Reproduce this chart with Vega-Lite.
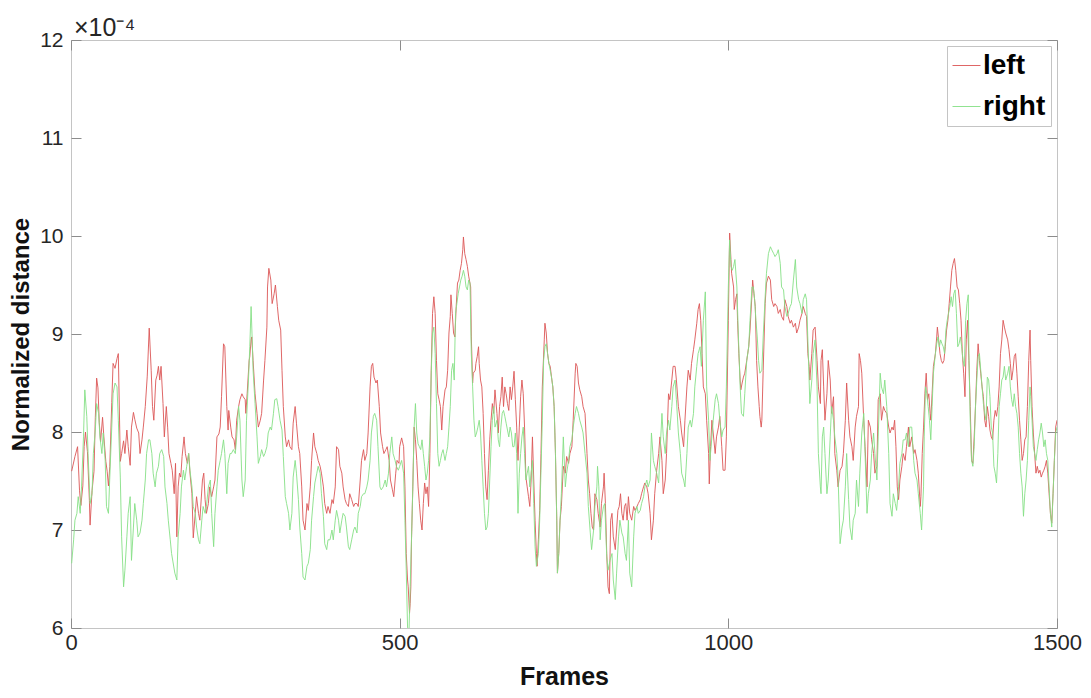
{
  "$schema": "https://vega.github.io/schema/vega-lite/v6.json",
  "width": 986,
  "height": 588,
  "autosize": {"type": "none"},
  "padding": {"left": 71, "top": 40, "right": 34, "bottom": 70},
  "background": "white",
  "config": {
    "view": {"stroke": "#c4c4c4", "strokeWidth": 1},
    "font": "Liberation Sans",
    "axis": {
      "grid": false, "domain": false, "tickColor": "#8c8c8c", "tickSize": -10,
      "labelColor": "#262626", "labelFontSize": 21, "labelFont": "Liberation Sans",
      "titleFont": "Liberation Sans", "titleColor": "#111111", "titleFontSize": 25, "titleFontWeight": "bold",
      "labelFlush": false, "labelOverlap": false
    }
  },
  "title": {"text": "×10⁻⁴", "anchor": "start", "frame": "group", "fontSize": 25, "fontWeight": "normal", "font": "Liberation Sans", "color": "#262626", "offset": -12, "dx": 3},
  "datasets": {
    "curves": [
{"frame":1,"dist":7.60,"side":"left"},{"frame":6,"dist":7.75,"side":"left"},{"frame":10,"dist":7.85,"side":"left"},{"frame":13,"dist":7.40,"side":"left"},{"frame":15,"dist":7.25,"side":"left"},{"frame":18,"dist":7.45,"side":"left"},{"frame":20,"dist":7.85,"side":"left"},{"frame":22,"dist":8.00,"side":"left"},{"frame":25,"dist":7.80,"side":"left"},{"frame":28,"dist":7.30,"side":"left"},{"frame":29,"dist":7.05,"side":"left"},{"frame":32,"dist":7.40,"side":"left"},{"frame":35,"dist":7.60,"side":"left"},{"frame":37,"dist":8.15,"side":"left"},{"frame":39,"dist":8.55,"side":"left"},{"frame":41,"dist":8.45,"side":"left"},{"frame":43,"dist":8.10,"side":"left"},{"frame":45,"dist":7.90,"side":"left"},{"frame":48,"dist":8.15,"side":"left"},{"frame":50,"dist":7.95,"side":"left"},{"frame":53,"dist":7.70,"side":"left"},{"frame":55,"dist":7.60,"side":"left"},{"frame":57,"dist":7.45,"side":"left"},{"frame":59,"dist":7.65,"side":"left"},{"frame":62,"dist":8.30,"side":"left"},{"frame":64,"dist":8.70,"side":"left"},{"frame":67,"dist":8.65,"side":"left"},{"frame":70,"dist":8.75,"side":"left"},{"frame":72,"dist":8.80,"side":"left"},{"frame":75,"dist":7.70,"side":"left"},{"frame":77,"dist":7.78,"side":"left"},{"frame":80,"dist":7.91,"side":"left"},{"frame":82,"dist":7.78,"side":"left"},{"frame":85,"dist":8.02,"side":"left"},{"frame":87,"dist":7.85,"side":"left"},{"frame":90,"dist":7.66,"side":"left"},{"frame":92,"dist":8.05,"side":"left"},{"frame":95,"dist":8.20,"side":"left"},{"frame":97,"dist":8.13,"side":"left"},{"frame":100,"dist":8.04,"side":"left"},{"frame":103,"dist":7.99,"side":"left"},{"frame":105,"dist":7.78,"side":"left"},{"frame":108,"dist":7.92,"side":"left"},{"frame":110,"dist":8.05,"side":"left"},{"frame":113,"dist":8.26,"side":"left"},{"frame":116,"dist":8.57,"side":"left"},{"frame":119,"dist":9.06,"side":"left"},{"frame":122,"dist":8.63,"side":"left"},{"frame":124,"dist":8.26,"side":"left"},{"frame":126,"dist":8.12,"side":"left"},{"frame":129,"dist":8.53,"side":"left"},{"frame":131,"dist":8.58,"side":"left"},{"frame":133,"dist":8.67,"side":"left"},{"frame":135,"dist":8.53,"side":"left"},{"frame":137,"dist":8.67,"side":"left"},{"frame":140,"dist":8.29,"side":"left"},{"frame":142,"dist":7.95,"side":"left"},{"frame":145,"dist":8.26,"side":"left"},{"frame":147,"dist":8.05,"side":"left"},{"frame":149,"dist":7.78,"side":"left"},{"frame":152,"dist":7.68,"side":"left"},{"frame":154,"dist":7.61,"side":"left"},{"frame":157,"dist":7.37,"side":"left"},{"frame":159,"dist":7.68,"side":"left"},{"frame":161,"dist":6.93,"side":"left"},{"frame":163,"dist":7.44,"side":"left"},{"frame":165,"dist":7.58,"side":"left"},{"frame":167,"dist":7.54,"side":"left"},{"frame":169,"dist":7.75,"side":"left"},{"frame":172,"dist":7.95,"side":"left"},{"frame":174,"dist":7.78,"side":"left"},{"frame":177,"dist":7.68,"side":"left"},{"frame":179,"dist":7.78,"side":"left"},{"frame":181,"dist":7.58,"side":"left"},{"frame":184,"dist":7.37,"side":"left"},{"frame":186,"dist":6.92,"side":"left"},{"frame":189,"dist":7.17,"side":"left"},{"frame":191,"dist":7.34,"side":"left"},{"frame":194,"dist":7.17,"side":"left"},{"frame":196,"dist":7.10,"side":"left"},{"frame":200,"dist":7.51,"side":"left"},{"frame":202,"dist":7.58,"side":"left"},{"frame":204,"dist":7.31,"side":"left"},{"frame":206,"dist":7.17,"side":"left"},{"frame":209,"dist":7.27,"side":"left"},{"frame":211,"dist":7.44,"side":"left"},{"frame":214,"dist":7.34,"side":"left"},{"frame":217,"dist":7.44,"side":"left"},{"frame":219,"dist":7.51,"side":"left"},{"frame":222,"dist":7.95,"side":"left"},{"frame":225,"dist":7.98,"side":"left"},{"frame":227,"dist":8.05,"side":"left"},{"frame":229,"dist":8.36,"side":"left"},{"frame":232,"dist":8.90,"side":"left"},{"frame":234,"dist":8.87,"side":"left"},{"frame":237,"dist":8.26,"side":"left"},{"frame":239,"dist":8.02,"side":"left"},{"frame":240,"dist":8.22,"side":"left"},{"frame":243,"dist":8.05,"side":"left"},{"frame":245,"dist":7.95,"side":"left"},{"frame":248,"dist":7.92,"side":"left"},{"frame":250,"dist":7.82,"side":"left"},{"frame":252,"dist":8.12,"side":"left"},{"frame":255,"dist":8.26,"side":"left"},{"frame":257,"dist":8.33,"side":"left"},{"frame":260,"dist":8.39,"side":"left"},{"frame":262,"dist":8.36,"side":"left"},{"frame":265,"dist":8.33,"side":"left"},{"frame":266,"dist":8.19,"side":"left"},{"frame":268,"dist":8.39,"side":"left"},{"frame":271,"dist":8.73,"side":"left"},{"frame":272,"dist":8.77,"side":"left"},{"frame":274,"dist":8.94,"side":"left"},{"frame":275,"dist":8.97,"side":"left"},{"frame":277,"dist":8.73,"side":"left"},{"frame":280,"dist":8.39,"side":"left"},{"frame":283,"dist":8.19,"side":"left"},{"frame":285,"dist":8.05,"side":"left"},{"frame":288,"dist":8.12,"side":"left"},{"frame":290,"dist":8.19,"side":"left"},{"frame":293,"dist":8.53,"side":"left"},{"frame":295,"dist":8.73,"side":"left"},{"frame":298,"dist":9.07,"side":"left"},{"frame":299,"dist":9.48,"side":"left"},{"frame":301,"dist":9.67,"side":"left"},{"frame":304,"dist":9.55,"side":"left"},{"frame":306,"dist":9.31,"side":"left"},{"frame":309,"dist":9.41,"side":"left"},{"frame":311,"dist":9.50,"side":"left"},{"frame":314,"dist":9.28,"side":"left"},{"frame":316,"dist":9.14,"side":"left"},{"frame":319,"dist":9.04,"side":"left"},{"frame":321,"dist":8.63,"side":"left"},{"frame":323,"dist":8.26,"side":"left"},{"frame":326,"dist":7.95,"side":"left"},{"frame":328,"dist":7.85,"side":"left"},{"frame":331,"dist":7.92,"side":"left"},{"frame":333,"dist":7.85,"side":"left"},{"frame":336,"dist":7.82,"side":"left"},{"frame":338,"dist":8.09,"side":"left"},{"frame":341,"dist":8.26,"side":"left"},{"frame":343,"dist":8.09,"side":"left"},{"frame":346,"dist":7.85,"side":"left"},{"frame":348,"dist":7.78,"side":"left"},{"frame":351,"dist":7.44,"side":"left"},{"frame":353,"dist":7.10,"side":"left"},{"frame":356,"dist":7.00,"side":"left"},{"frame":359,"dist":7.27,"side":"left"},{"frame":361,"dist":7.20,"side":"left"},{"frame":364,"dist":7.44,"side":"left"},{"frame":366,"dist":7.71,"side":"left"},{"frame":369,"dist":7.99,"side":"left"},{"frame":371,"dist":7.85,"side":"left"},{"frame":374,"dist":7.78,"side":"left"},{"frame":376,"dist":7.71,"side":"left"},{"frame":379,"dist":7.65,"side":"left"},{"frame":381,"dist":7.58,"side":"left"},{"frame":384,"dist":7.44,"side":"left"},{"frame":386,"dist":7.27,"side":"left"},{"frame":389,"dist":7.17,"side":"left"},{"frame":391,"dist":7.24,"side":"left"},{"frame":394,"dist":7.17,"side":"left"},{"frame":397,"dist":7.31,"side":"left"},{"frame":399,"dist":7.27,"side":"left"},{"frame":402,"dist":7.44,"side":"left"},{"frame":404,"dist":7.85,"side":"left"},{"frame":407,"dist":7.82,"side":"left"},{"frame":409,"dist":7.65,"side":"left"},{"frame":412,"dist":7.58,"side":"left"},{"frame":414,"dist":7.44,"side":"left"},{"frame":417,"dist":7.31,"side":"left"},{"frame":419,"dist":7.27,"side":"left"},{"frame":422,"dist":7.24,"side":"left"},{"frame":424,"dist":7.37,"side":"left"},{"frame":427,"dist":7.31,"side":"left"},{"frame":430,"dist":7.24,"side":"left"},{"frame":432,"dist":7.27,"side":"left"},{"frame":435,"dist":7.27,"side":"left"},{"frame":437,"dist":7.24,"side":"left"},{"frame":440,"dist":7.51,"side":"left"},{"frame":442,"dist":7.71,"side":"left"},{"frame":445,"dist":7.82,"side":"left"},{"frame":447,"dist":7.71,"side":"left"},{"frame":450,"dist":7.78,"side":"left"},{"frame":452,"dist":7.99,"side":"left"},{"frame":455,"dist":8.46,"side":"left"},{"frame":457,"dist":8.67,"side":"left"},{"frame":459,"dist":8.70,"side":"left"},{"frame":461,"dist":8.56,"side":"left"},{"frame":464,"dist":8.50,"side":"left"},{"frame":466,"dist":8.53,"side":"left"},{"frame":469,"dist":8.26,"side":"left"},{"frame":471,"dist":7.99,"side":"left"},{"frame":474,"dist":7.85,"side":"left"},{"frame":476,"dist":7.78,"side":"left"},{"frame":479,"dist":7.82,"side":"left"},{"frame":481,"dist":7.85,"side":"left"},{"frame":484,"dist":7.71,"side":"left"},{"frame":486,"dist":7.51,"side":"left"},{"frame":489,"dist":7.41,"side":"left"},{"frame":491,"dist":7.34,"side":"left"},{"frame":494,"dist":7.58,"side":"left"},{"frame":496,"dist":7.71,"side":"left"},{"frame":499,"dist":7.68,"side":"left"},{"frame":500,"dist":7.85,"side":"left"},{"frame":503,"dist":7.94,"side":"left"},{"frame":506,"dist":7.85,"side":"left"},{"frame":508,"dist":7.44,"side":"left"},{"frame":510,"dist":6.76,"side":"left"},{"frame":512,"dist":6.49,"side":"left"},{"frame":513,"dist":6.42,"side":"left"},{"frame":515,"dist":6.15,"side":"left"},{"frame":516,"dist":6.25,"side":"left"},{"frame":517,"dist":6.42,"side":"left"},{"frame":518,"dist":6.90,"side":"left"},{"frame":520,"dist":7.44,"side":"left"},{"frame":522,"dist":8.05,"side":"left"},{"frame":524,"dist":7.92,"side":"left"},{"frame":526,"dist":7.71,"side":"left"},{"frame":528,"dist":7.44,"side":"left"},{"frame":530,"dist":7.27,"side":"left"},{"frame":532,"dist":7.10,"side":"left"},{"frame":534,"dist":7.00,"side":"left"},{"frame":536,"dist":7.27,"side":"left"},{"frame":538,"dist":7.48,"side":"left"},{"frame":540,"dist":7.37,"side":"left"},{"frame":542,"dist":7.44,"side":"left"},{"frame":544,"dist":7.24,"side":"left"},{"frame":546,"dist":7.78,"side":"left"},{"frame":548,"dist":8.63,"side":"left"},{"frame":550,"dist":9.21,"side":"left"},{"frame":552,"dist":9.38,"side":"left"},{"frame":554,"dist":9.21,"side":"left"},{"frame":556,"dist":8.73,"side":"left"},{"frame":558,"dist":8.39,"side":"left"},{"frame":560,"dist":8.33,"side":"left"},{"frame":562,"dist":8.26,"side":"left"},{"frame":564,"dist":8.02,"side":"left"},{"frame":566,"dist":8.26,"side":"left"},{"frame":569,"dist":8.43,"side":"left"},{"frame":571,"dist":8.46,"side":"left"},{"frame":573,"dist":8.63,"side":"left"},{"frame":575,"dist":9.01,"side":"left"},{"frame":577,"dist":9.18,"side":"left"},{"frame":578,"dist":9.40,"side":"left"},{"frame":580,"dist":9.21,"side":"left"},{"frame":582,"dist":9.01,"side":"left"},{"frame":584,"dist":8.97,"side":"left"},{"frame":586,"dist":9.28,"side":"left"},{"frame":588,"dist":9.52,"side":"left"},{"frame":590,"dist":9.55,"side":"left"},{"frame":592,"dist":9.65,"side":"left"},{"frame":594,"dist":9.72,"side":"left"},{"frame":596,"dist":9.86,"side":"left"},{"frame":597,"dist":9.99,"side":"left"},{"frame":599,"dist":9.82,"side":"left"},{"frame":601,"dist":9.76,"side":"left"},{"frame":603,"dist":9.69,"side":"left"},{"frame":605,"dist":9.59,"side":"left"},{"frame":608,"dist":9.48,"side":"left"},{"frame":609,"dist":8.97,"side":"left"},{"frame":611,"dist":8.50,"side":"left"},{"frame":612,"dist":8.60,"side":"left"},{"frame":615,"dist":8.63,"side":"left"},{"frame":616,"dist":8.70,"side":"left"},{"frame":618,"dist":8.77,"side":"left"},{"frame":620,"dist":8.87,"side":"left"},{"frame":621,"dist":8.70,"side":"left"},{"frame":623,"dist":8.53,"side":"left"},{"frame":625,"dist":8.46,"side":"left"},{"frame":627,"dist":8.19,"side":"left"},{"frame":629,"dist":7.78,"side":"left"},{"frame":631,"dist":7.44,"side":"left"},{"frame":633,"dist":7.31,"side":"left"},{"frame":635,"dist":7.61,"side":"left"},{"frame":637,"dist":7.92,"side":"left"},{"frame":639,"dist":8.12,"side":"left"},{"frame":641,"dist":8.29,"side":"left"},{"frame":643,"dist":8.19,"side":"left"},{"frame":645,"dist":8.43,"side":"left"},{"frame":648,"dist":8.19,"side":"left"},{"frame":650,"dist":7.99,"side":"left"},{"frame":652,"dist":8.26,"side":"left"},{"frame":654,"dist":8.36,"side":"left"},{"frame":656,"dist":8.56,"side":"left"},{"frame":658,"dist":8.26,"side":"left"},{"frame":660,"dist":8.46,"side":"left"},{"frame":662,"dist":8.39,"side":"left"},{"frame":664,"dist":8.29,"side":"left"},{"frame":666,"dist":8.22,"side":"left"},{"frame":668,"dist":8.46,"side":"left"},{"frame":670,"dist":8.33,"side":"left"},{"frame":672,"dist":8.46,"side":"left"},{"frame":674,"dist":8.62,"side":"left"},{"frame":676,"dist":8.33,"side":"left"},{"frame":678,"dist":8.05,"side":"left"},{"frame":680,"dist":7.71,"side":"left"},{"frame":682,"dist":8.05,"side":"left"},{"frame":684,"dist":8.36,"side":"left"},{"frame":686,"dist":8.53,"side":"left"},{"frame":688,"dist":8.39,"side":"left"},{"frame":690,"dist":8.05,"side":"left"},{"frame":692,"dist":7.54,"side":"left"},{"frame":694,"dist":7.44,"side":"left"},{"frame":696,"dist":7.34,"side":"left"},{"frame":698,"dist":7.24,"side":"left"},{"frame":700,"dist":7.51,"side":"left"},{"frame":702,"dist":7.95,"side":"left"},{"frame":704,"dist":7.51,"side":"left"},{"frame":706,"dist":7.10,"side":"left"},{"frame":708,"dist":6.76,"side":"left"},{"frame":709,"dist":6.63,"side":"left"},{"frame":711,"dist":6.90,"side":"left"},{"frame":713,"dist":7.20,"side":"left"},{"frame":715,"dist":7.78,"side":"left"},{"frame":717,"dist":8.46,"side":"left"},{"frame":720,"dist":8.94,"side":"left"},{"frame":721,"dist":9.11,"side":"left"},{"frame":723,"dist":9.01,"side":"left"},{"frame":725,"dist":8.80,"side":"left"},{"frame":727,"dist":8.70,"side":"left"},{"frame":729,"dist":8.67,"side":"left"},{"frame":731,"dist":8.56,"side":"left"},{"frame":733,"dist":8.46,"side":"left"},{"frame":735,"dist":8.26,"side":"left"},{"frame":737,"dist":7.78,"side":"left"},{"frame":739,"dist":7.10,"side":"left"},{"frame":740,"dist":6.56,"side":"left"},{"frame":742,"dist":6.76,"side":"left"},{"frame":744,"dist":7.10,"side":"left"},{"frame":746,"dist":7.24,"side":"left"},{"frame":749,"dist":7.65,"side":"left"},{"frame":752,"dist":7.58,"side":"left"},{"frame":754,"dist":7.75,"side":"left"},{"frame":757,"dist":7.68,"side":"left"},{"frame":759,"dist":7.78,"side":"left"},{"frame":762,"dist":7.85,"side":"left"},{"frame":764,"dist":8.12,"side":"left"},{"frame":767,"dist":8.60,"side":"left"},{"frame":768,"dist":8.70,"side":"left"},{"frame":770,"dist":8.67,"side":"left"},{"frame":772,"dist":8.50,"side":"left"},{"frame":774,"dist":8.43,"side":"left"},{"frame":777,"dist":8.36,"side":"left"},{"frame":779,"dist":8.26,"side":"left"},{"frame":782,"dist":8.19,"side":"left"},{"frame":785,"dist":7.78,"side":"left"},{"frame":787,"dist":7.51,"side":"left"},{"frame":789,"dist":7.37,"side":"left"},{"frame":791,"dist":7.17,"side":"left"},{"frame":793,"dist":7.03,"side":"left"},{"frame":795,"dist":7.00,"side":"left"},{"frame":797,"dist":7.37,"side":"left"},{"frame":800,"dist":7.31,"side":"left"},{"frame":802,"dist":7.17,"side":"left"},{"frame":805,"dist":7.03,"side":"left"},{"frame":807,"dist":7.27,"side":"left"},{"frame":810,"dist":7.44,"side":"left"},{"frame":811,"dist":7.58,"side":"left"},{"frame":813,"dist":7.27,"side":"left"},{"frame":815,"dist":6.76,"side":"left"},{"frame":817,"dist":6.42,"side":"left"},{"frame":819,"dist":6.35,"side":"left"},{"frame":821,"dist":7.10,"side":"left"},{"frame":823,"dist":7.17,"side":"left"},{"frame":825,"dist":6.93,"side":"left"},{"frame":828,"dist":6.80,"side":"left"},{"frame":830,"dist":7.00,"side":"left"},{"frame":832,"dist":7.20,"side":"left"},{"frame":834,"dist":7.24,"side":"left"},{"frame":836,"dist":7.37,"side":"left"},{"frame":838,"dist":7.17,"side":"left"},{"frame":840,"dist":7.10,"side":"left"},{"frame":842,"dist":7.24,"side":"left"},{"frame":844,"dist":7.27,"side":"left"},{"frame":846,"dist":7.10,"side":"left"},{"frame":848,"dist":7.34,"side":"left"},{"frame":850,"dist":7.17,"side":"left"},{"frame":853,"dist":7.10,"side":"left"},{"frame":856,"dist":7.24,"side":"left"},{"frame":858,"dist":7.20,"side":"left"},{"frame":861,"dist":7.24,"side":"left"},{"frame":863,"dist":7.27,"side":"left"},{"frame":866,"dist":7.31,"side":"left"},{"frame":868,"dist":7.37,"side":"left"},{"frame":871,"dist":7.44,"side":"left"},{"frame":873,"dist":7.48,"side":"left"},{"frame":876,"dist":7.44,"side":"left"},{"frame":878,"dist":7.37,"side":"left"},{"frame":881,"dist":7.17,"side":"left"},{"frame":883,"dist":6.90,"side":"left"},{"frame":886,"dist":7.10,"side":"left"},{"frame":888,"dist":7.37,"side":"left"},{"frame":891,"dist":7.61,"side":"left"},{"frame":894,"dist":7.78,"side":"left"},{"frame":896,"dist":7.95,"side":"left"},{"frame":899,"dist":7.71,"side":"left"},{"frame":901,"dist":7.37,"side":"left"},{"frame":904,"dist":7.51,"side":"left"},{"frame":906,"dist":7.78,"side":"left"},{"frame":909,"dist":8.39,"side":"left"},{"frame":911,"dist":8.33,"side":"left"},{"frame":914,"dist":8.53,"side":"left"},{"frame":916,"dist":8.67,"side":"left"},{"frame":919,"dist":8.67,"side":"left"},{"frame":921,"dist":8.53,"side":"left"},{"frame":924,"dist":8.26,"side":"left"},{"frame":927,"dist":8.12,"side":"left"},{"frame":929,"dist":7.99,"side":"left"},{"frame":932,"dist":7.85,"side":"left"},{"frame":934,"dist":8.12,"side":"left"},{"frame":937,"dist":8.46,"side":"left"},{"frame":939,"dist":8.63,"side":"left"},{"frame":942,"dist":8.53,"side":"left"},{"frame":944,"dist":8.70,"side":"left"},{"frame":947,"dist":8.84,"side":"left"},{"frame":949,"dist":8.94,"side":"left"},{"frame":952,"dist":9.11,"side":"left"},{"frame":954,"dist":9.25,"side":"left"},{"frame":956,"dist":9.31,"side":"left"},{"frame":958,"dist":9.14,"side":"left"},{"frame":960,"dist":8.80,"side":"left"},{"frame":962,"dist":8.46,"side":"left"},{"frame":965,"dist":8.39,"side":"left"},{"frame":967,"dist":8.12,"side":"left"},{"frame":970,"dist":7.78,"side":"left"},{"frame":971,"dist":7.47,"side":"left"},{"frame":973,"dist":7.85,"side":"left"},{"frame":975,"dist":8.12,"side":"left"},{"frame":977,"dist":7.99,"side":"left"},{"frame":980,"dist":7.78,"side":"left"},{"frame":982,"dist":7.95,"side":"left"},{"frame":985,"dist":8.05,"side":"left"},{"frame":987,"dist":8.16,"side":"left"},{"frame":990,"dist":7.85,"side":"left"},{"frame":992,"dist":7.61,"side":"left"},{"frame":995,"dist":7.61,"side":"left"},{"frame":997,"dist":7.95,"side":"left"},{"frame":1000,"dist":9.14,"side":"left"},{"frame":1002,"dist":10.03,"side":"left"},{"frame":1004,"dist":9.76,"side":"left"},{"frame":1005,"dist":9.62,"side":"left"},{"frame":1008,"dist":9.48,"side":"left"},{"frame":1009,"dist":9.25,"side":"left"},{"frame":1011,"dist":9.35,"side":"left"},{"frame":1013,"dist":9.41,"side":"left"},{"frame":1014,"dist":9.14,"side":"left"},{"frame":1016,"dist":8.80,"side":"left"},{"frame":1018,"dist":8.53,"side":"left"},{"frame":1019,"dist":8.43,"side":"left"},{"frame":1021,"dist":8.50,"side":"left"},{"frame":1023,"dist":8.56,"side":"left"},{"frame":1025,"dist":8.60,"side":"left"},{"frame":1028,"dist":8.73,"side":"left"},{"frame":1031,"dist":8.87,"side":"left"},{"frame":1033,"dist":9.04,"side":"left"},{"frame":1036,"dist":9.41,"side":"left"},{"frame":1037,"dist":9.55,"side":"left"},{"frame":1039,"dist":9.41,"side":"left"},{"frame":1041,"dist":9.28,"side":"left"},{"frame":1043,"dist":8.73,"side":"left"},{"frame":1045,"dist":8.46,"side":"left"},{"frame":1047,"dist":8.26,"side":"left"},{"frame":1048,"dist":8.16,"side":"left"},{"frame":1050,"dist":8.05,"side":"left"},{"frame":1051,"dist":8.12,"side":"left"},{"frame":1053,"dist":8.63,"side":"left"},{"frame":1056,"dist":9.31,"side":"left"},{"frame":1058,"dist":9.52,"side":"left"},{"frame":1061,"dist":9.59,"side":"left"},{"frame":1064,"dist":9.55,"side":"left"},{"frame":1066,"dist":9.35,"side":"left"},{"frame":1069,"dist":9.28,"side":"left"},{"frame":1071,"dist":9.31,"side":"left"},{"frame":1074,"dist":9.28,"side":"left"},{"frame":1076,"dist":9.21,"side":"left"},{"frame":1079,"dist":9.25,"side":"left"},{"frame":1081,"dist":9.18,"side":"left"},{"frame":1084,"dist":9.14,"side":"left"},{"frame":1086,"dist":9.35,"side":"left"},{"frame":1089,"dist":9.28,"side":"left"},{"frame":1091,"dist":9.18,"side":"left"},{"frame":1094,"dist":9.11,"side":"left"},{"frame":1096,"dist":9.14,"side":"left"},{"frame":1099,"dist":9.07,"side":"left"},{"frame":1102,"dist":9.11,"side":"left"},{"frame":1104,"dist":9.01,"side":"left"},{"frame":1107,"dist":9.07,"side":"left"},{"frame":1109,"dist":9.14,"side":"left"},{"frame":1112,"dist":9.21,"side":"left"},{"frame":1114,"dist":9.28,"side":"left"},{"frame":1117,"dist":9.21,"side":"left"},{"frame":1119,"dist":9.18,"side":"left"},{"frame":1121,"dist":8.80,"side":"left"},{"frame":1123,"dist":8.67,"side":"left"},{"frame":1124,"dist":8.53,"side":"left"},{"frame":1127,"dist":8.80,"side":"left"},{"frame":1129,"dist":9.04,"side":"left"},{"frame":1132,"dist":9.07,"side":"left"},{"frame":1135,"dist":8.73,"side":"left"},{"frame":1137,"dist":8.46,"side":"left"},{"frame":1140,"dist":8.29,"side":"left"},{"frame":1141,"dist":8.73,"side":"left"},{"frame":1143,"dist":8.84,"side":"left"},{"frame":1145,"dist":8.46,"side":"left"},{"frame":1147,"dist":8.12,"side":"left"},{"frame":1150,"dist":8.39,"side":"left"},{"frame":1152,"dist":8.73,"side":"left"},{"frame":1155,"dist":8.53,"side":"left"},{"frame":1157,"dist":8.19,"side":"left"},{"frame":1160,"dist":8.36,"side":"left"},{"frame":1162,"dist":7.78,"side":"left"},{"frame":1165,"dist":7.61,"side":"left"},{"frame":1167,"dist":7.44,"side":"left"},{"frame":1170,"dist":7.61,"side":"left"},{"frame":1173,"dist":7.65,"side":"left"},{"frame":1175,"dist":7.78,"side":"left"},{"frame":1178,"dist":8.12,"side":"left"},{"frame":1180,"dist":8.50,"side":"left"},{"frame":1183,"dist":8.12,"side":"left"},{"frame":1185,"dist":7.95,"side":"left"},{"frame":1188,"dist":7.85,"side":"left"},{"frame":1190,"dist":7.71,"side":"left"},{"frame":1193,"dist":8.05,"side":"left"},{"frame":1195,"dist":8.16,"side":"left"},{"frame":1198,"dist":8.26,"side":"left"},{"frame":1199,"dist":8.80,"side":"left"},{"frame":1201,"dist":8.73,"side":"left"},{"frame":1203,"dist":8.60,"side":"left"},{"frame":1206,"dist":8.12,"side":"left"},{"frame":1208,"dist":7.85,"side":"left"},{"frame":1211,"dist":7.44,"side":"left"},{"frame":1213,"dist":8.12,"side":"left"},{"frame":1216,"dist":8.05,"side":"left"},{"frame":1218,"dist":7.92,"side":"left"},{"frame":1221,"dist":7.78,"side":"left"},{"frame":1223,"dist":7.58,"side":"left"},{"frame":1226,"dist":7.65,"side":"left"},{"frame":1228,"dist":8.33,"side":"left"},{"frame":1231,"dist":8.39,"side":"left"},{"frame":1233,"dist":8.12,"side":"left"},{"frame":1236,"dist":8.26,"side":"left"},{"frame":1238,"dist":8.22,"side":"left"},{"frame":1241,"dist":8.19,"side":"left"},{"frame":1244,"dist":8.05,"side":"left"},{"frame":1246,"dist":7.99,"side":"left"},{"frame":1249,"dist":8.05,"side":"left"},{"frame":1251,"dist":8.02,"side":"left"},{"frame":1253,"dist":8.12,"side":"left"},{"frame":1255,"dist":7.85,"side":"left"},{"frame":1257,"dist":7.44,"side":"left"},{"frame":1259,"dist":7.31,"side":"left"},{"frame":1261,"dist":7.51,"side":"left"},{"frame":1264,"dist":7.65,"side":"left"},{"frame":1266,"dist":7.78,"side":"left"},{"frame":1269,"dist":7.71,"side":"left"},{"frame":1271,"dist":7.85,"side":"left"},{"frame":1274,"dist":8.05,"side":"left"},{"frame":1276,"dist":7.85,"side":"left"},{"frame":1279,"dist":7.95,"side":"left"},{"frame":1282,"dist":7.78,"side":"left"},{"frame":1284,"dist":7.82,"side":"left"},{"frame":1287,"dist":7.71,"side":"left"},{"frame":1289,"dist":7.58,"side":"left"},{"frame":1292,"dist":7.24,"side":"left"},{"frame":1293,"dist":7.34,"side":"left"},{"frame":1295,"dist":7.78,"side":"left"},{"frame":1297,"dist":8.05,"side":"left"},{"frame":1299,"dist":8.39,"side":"left"},{"frame":1301,"dist":8.60,"side":"left"},{"frame":1303,"dist":8.33,"side":"left"},{"frame":1305,"dist":8.39,"side":"left"},{"frame":1307,"dist":8.19,"side":"left"},{"frame":1308,"dist":8.12,"side":"left"},{"frame":1310,"dist":8.39,"side":"left"},{"frame":1312,"dist":8.67,"side":"left"},{"frame":1315,"dist":8.80,"side":"left"},{"frame":1317,"dist":8.97,"side":"left"},{"frame":1318,"dist":9.07,"side":"left"},{"frame":1320,"dist":8.94,"side":"left"},{"frame":1322,"dist":8.80,"side":"left"},{"frame":1324,"dist":8.73,"side":"left"},{"frame":1326,"dist":8.70,"side":"left"},{"frame":1328,"dist":8.73,"side":"left"},{"frame":1330,"dist":8.87,"side":"left"},{"frame":1332,"dist":9.04,"side":"left"},{"frame":1334,"dist":9.14,"side":"left"},{"frame":1336,"dist":9.31,"side":"left"},{"frame":1338,"dist":9.48,"side":"left"},{"frame":1340,"dist":9.65,"side":"left"},{"frame":1342,"dist":9.72,"side":"left"},{"frame":1344,"dist":9.77,"side":"left"},{"frame":1346,"dist":9.65,"side":"left"},{"frame":1348,"dist":9.48,"side":"left"},{"frame":1350,"dist":9.45,"side":"left"},{"frame":1352,"dist":9.31,"side":"left"},{"frame":1354,"dist":9.14,"side":"left"},{"frame":1356,"dist":8.80,"side":"left"},{"frame":1358,"dist":8.60,"side":"left"},{"frame":1360,"dist":8.36,"side":"left"},{"frame":1362,"dist":8.94,"side":"left"},{"frame":1364,"dist":9.14,"side":"left"},{"frame":1366,"dist":8.73,"side":"left"},{"frame":1368,"dist":8.26,"side":"left"},{"frame":1370,"dist":7.71,"side":"left"},{"frame":1372,"dist":7.68,"side":"left"},{"frame":1374,"dist":7.95,"side":"left"},{"frame":1376,"dist":8.26,"side":"left"},{"frame":1378,"dist":8.63,"side":"left"},{"frame":1380,"dist":8.90,"side":"left"},{"frame":1382,"dist":8.73,"side":"left"},{"frame":1384,"dist":8.60,"side":"left"},{"frame":1386,"dist":8.46,"side":"left"},{"frame":1388,"dist":8.36,"side":"left"},{"frame":1390,"dist":8.12,"side":"left"},{"frame":1392,"dist":8.05,"side":"left"},{"frame":1394,"dist":8.26,"side":"left"},{"frame":1396,"dist":8.16,"side":"left"},{"frame":1398,"dist":8.02,"side":"left"},{"frame":1400,"dist":7.95,"side":"left"},{"frame":1402,"dist":7.92,"side":"left"},{"frame":1404,"dist":8.12,"side":"left"},{"frame":1406,"dist":8.22,"side":"left"},{"frame":1408,"dist":8.16,"side":"left"},{"frame":1410,"dist":8.26,"side":"left"},{"frame":1412,"dist":8.46,"side":"left"},{"frame":1414,"dist":8.80,"side":"left"},{"frame":1416,"dist":8.94,"side":"left"},{"frame":1418,"dist":9.14,"side":"left"},{"frame":1420,"dist":9.07,"side":"left"},{"frame":1422,"dist":9.01,"side":"left"},{"frame":1425,"dist":8.94,"side":"left"},{"frame":1427,"dist":8.84,"side":"left"},{"frame":1429,"dist":8.70,"side":"left"},{"frame":1431,"dist":8.53,"side":"left"},{"frame":1433,"dist":8.63,"side":"left"},{"frame":1435,"dist":8.77,"side":"left"},{"frame":1437,"dist":8.80,"side":"left"},{"frame":1439,"dist":8.60,"side":"left"},{"frame":1441,"dist":8.36,"side":"left"},{"frame":1443,"dist":8.12,"side":"left"},{"frame":1445,"dist":7.92,"side":"left"},{"frame":1447,"dist":7.71,"side":"left"},{"frame":1449,"dist":7.78,"side":"left"},{"frame":1451,"dist":7.92,"side":"left"},{"frame":1453,"dist":7.95,"side":"left"},{"frame":1455,"dist":8.26,"side":"left"},{"frame":1457,"dist":8.73,"side":"left"},{"frame":1459,"dist":9.04,"side":"left"},{"frame":1460,"dist":8.73,"side":"left"},{"frame":1462,"dist":8.26,"side":"left"},{"frame":1464,"dist":7.99,"side":"left"},{"frame":1466,"dist":7.78,"side":"left"},{"frame":1468,"dist":7.58,"side":"left"},{"frame":1470,"dist":7.65,"side":"left"},{"frame":1472,"dist":7.58,"side":"left"},{"frame":1474,"dist":7.61,"side":"left"},{"frame":1476,"dist":7.54,"side":"left"},{"frame":1478,"dist":7.58,"side":"left"},{"frame":1480,"dist":7.61,"side":"left"},{"frame":1482,"dist":7.65,"side":"left"},{"frame":1484,"dist":7.71,"side":"left"},{"frame":1486,"dist":7.58,"side":"left"},{"frame":1488,"dist":7.37,"side":"left"},{"frame":1490,"dist":7.17,"side":"left"},{"frame":1492,"dist":7.07,"side":"left"},{"frame":1494,"dist":7.37,"side":"left"},{"frame":1496,"dist":7.71,"side":"left"},{"frame":1498,"dist":8.05,"side":"left"},{"frame":1500,"dist":8.12,"side":"left"},
{"frame":1,"dist":6.66,"side":"right"},{"frame":4,"dist":6.90,"side":"right"},{"frame":6,"dist":7.10,"side":"right"},{"frame":9,"dist":7.17,"side":"right"},{"frame":11,"dist":7.34,"side":"right"},{"frame":14,"dist":7.17,"side":"right"},{"frame":16,"dist":7.44,"side":"right"},{"frame":19,"dist":7.95,"side":"right"},{"frame":21,"dist":8.43,"side":"right"},{"frame":24,"dist":8.16,"side":"right"},{"frame":26,"dist":7.78,"side":"right"},{"frame":29,"dist":7.27,"side":"right"},{"frame":32,"dist":7.37,"side":"right"},{"frame":34,"dist":7.78,"side":"right"},{"frame":37,"dist":8.02,"side":"right"},{"frame":39,"dist":8.29,"side":"right"},{"frame":42,"dist":8.19,"side":"right"},{"frame":44,"dist":7.95,"side":"right"},{"frame":47,"dist":7.78,"side":"right"},{"frame":49,"dist":7.99,"side":"right"},{"frame":52,"dist":7.71,"side":"right"},{"frame":54,"dist":7.24,"side":"right"},{"frame":57,"dist":7.17,"side":"right"},{"frame":59,"dist":7.54,"side":"right"},{"frame":62,"dist":8.05,"side":"right"},{"frame":64,"dist":8.39,"side":"right"},{"frame":67,"dist":8.50,"side":"right"},{"frame":70,"dist":8.46,"side":"right"},{"frame":72,"dist":8.12,"side":"right"},{"frame":75,"dist":7.54,"side":"right"},{"frame":77,"dist":6.93,"side":"right"},{"frame":80,"dist":6.42,"side":"right"},{"frame":82,"dist":6.59,"side":"right"},{"frame":85,"dist":6.93,"side":"right"},{"frame":87,"dist":7.17,"side":"right"},{"frame":90,"dist":7.34,"side":"right"},{"frame":92,"dist":6.69,"side":"right"},{"frame":95,"dist":7.03,"side":"right"},{"frame":97,"dist":7.27,"side":"right"},{"frame":100,"dist":7.10,"side":"right"},{"frame":102,"dist":6.93,"side":"right"},{"frame":105,"dist":6.97,"side":"right"},{"frame":108,"dist":7.10,"side":"right"},{"frame":110,"dist":7.27,"side":"right"},{"frame":113,"dist":7.51,"side":"right"},{"frame":115,"dist":7.78,"side":"right"},{"frame":118,"dist":7.92,"side":"right"},{"frame":120,"dist":7.92,"side":"right"},{"frame":123,"dist":7.78,"side":"right"},{"frame":125,"dist":7.58,"side":"right"},{"frame":128,"dist":7.44,"side":"right"},{"frame":130,"dist":7.58,"side":"right"},{"frame":133,"dist":7.65,"side":"right"},{"frame":135,"dist":7.78,"side":"right"},{"frame":138,"dist":7.82,"side":"right"},{"frame":141,"dist":7.75,"side":"right"},{"frame":143,"dist":7.44,"side":"right"},{"frame":146,"dist":7.27,"side":"right"},{"frame":148,"dist":7.10,"side":"right"},{"frame":151,"dist":6.90,"side":"right"},{"frame":153,"dist":6.76,"side":"right"},{"frame":158,"dist":6.56,"side":"right"},{"frame":161,"dist":6.49,"side":"right"},{"frame":163,"dist":6.93,"side":"right"},{"frame":166,"dist":7.17,"side":"right"},{"frame":168,"dist":7.44,"side":"right"},{"frame":171,"dist":7.61,"side":"right"},{"frame":173,"dist":7.51,"side":"right"},{"frame":176,"dist":7.65,"side":"right"},{"frame":179,"dist":7.78,"side":"right"},{"frame":181,"dist":7.61,"side":"right"},{"frame":184,"dist":7.44,"side":"right"},{"frame":186,"dist":7.24,"side":"right"},{"frame":189,"dist":7.17,"side":"right"},{"frame":191,"dist":7.03,"side":"right"},{"frame":194,"dist":6.90,"side":"right"},{"frame":196,"dist":6.86,"side":"right"},{"frame":199,"dist":7.10,"side":"right"},{"frame":201,"dist":7.24,"side":"right"},{"frame":204,"dist":7.17,"side":"right"},{"frame":206,"dist":7.24,"side":"right"},{"frame":209,"dist":7.44,"side":"right"},{"frame":212,"dist":7.51,"side":"right"},{"frame":214,"dist":7.17,"side":"right"},{"frame":217,"dist":6.83,"side":"right"},{"frame":219,"dist":7.17,"side":"right"},{"frame":222,"dist":7.44,"side":"right"},{"frame":224,"dist":7.61,"side":"right"},{"frame":227,"dist":7.71,"side":"right"},{"frame":229,"dist":7.78,"side":"right"},{"frame":232,"dist":7.92,"side":"right"},{"frame":234,"dist":7.78,"side":"right"},{"frame":237,"dist":7.37,"side":"right"},{"frame":239,"dist":7.68,"side":"right"},{"frame":242,"dist":7.78,"side":"right"},{"frame":244,"dist":7.78,"side":"right"},{"frame":247,"dist":7.82,"side":"right"},{"frame":250,"dist":7.78,"side":"right"},{"frame":252,"dist":7.95,"side":"right"},{"frame":255,"dist":8.26,"side":"right"},{"frame":257,"dist":8.12,"side":"right"},{"frame":260,"dist":7.51,"side":"right"},{"frame":262,"dist":7.34,"side":"right"},{"frame":265,"dist":7.51,"side":"right"},{"frame":267,"dist":8.12,"side":"right"},{"frame":270,"dist":8.53,"side":"right"},{"frame":272,"dist":8.87,"side":"right"},{"frame":274,"dist":9.28,"side":"right"},{"frame":276,"dist":8.87,"side":"right"},{"frame":277,"dist":8.63,"side":"right"},{"frame":280,"dist":8.29,"side":"right"},{"frame":283,"dist":7.95,"side":"right"},{"frame":285,"dist":7.68,"side":"right"},{"frame":288,"dist":7.75,"side":"right"},{"frame":290,"dist":7.82,"side":"right"},{"frame":293,"dist":7.75,"side":"right"},{"frame":295,"dist":7.78,"side":"right"},{"frame":298,"dist":7.85,"side":"right"},{"frame":300,"dist":7.99,"side":"right"},{"frame":303,"dist":8.05,"side":"right"},{"frame":305,"dist":8.02,"side":"right"},{"frame":308,"dist":8.19,"side":"right"},{"frame":310,"dist":8.33,"side":"right"},{"frame":313,"dist":8.34,"side":"right"},{"frame":315,"dist":8.26,"side":"right"},{"frame":318,"dist":8.12,"side":"right"},{"frame":321,"dist":8.02,"side":"right"},{"frame":323,"dist":7.75,"side":"right"},{"frame":326,"dist":7.34,"side":"right"},{"frame":328,"dist":7.27,"side":"right"},{"frame":331,"dist":7.17,"side":"right"},{"frame":333,"dist":7.00,"side":"right"},{"frame":336,"dist":7.17,"side":"right"},{"frame":338,"dist":7.54,"side":"right"},{"frame":341,"dist":7.71,"side":"right"},{"frame":343,"dist":7.58,"side":"right"},{"frame":346,"dist":7.31,"side":"right"},{"frame":348,"dist":7.03,"side":"right"},{"frame":351,"dist":6.76,"side":"right"},{"frame":353,"dist":6.52,"side":"right"},{"frame":356,"dist":6.49,"side":"right"},{"frame":359,"dist":6.63,"side":"right"},{"frame":361,"dist":6.66,"side":"right"},{"frame":364,"dist":6.80,"side":"right"},{"frame":366,"dist":7.10,"side":"right"},{"frame":369,"dist":7.34,"side":"right"},{"frame":371,"dist":7.48,"side":"right"},{"frame":374,"dist":7.58,"side":"right"},{"frame":376,"dist":7.65,"side":"right"},{"frame":379,"dist":7.58,"side":"right"},{"frame":381,"dist":7.37,"side":"right"},{"frame":384,"dist":7.14,"side":"right"},{"frame":386,"dist":6.86,"side":"right"},{"frame":389,"dist":6.80,"side":"right"},{"frame":391,"dist":6.90,"side":"right"},{"frame":394,"dist":6.90,"side":"right"},{"frame":397,"dist":7.00,"side":"right"},{"frame":399,"dist":6.90,"side":"right"},{"frame":402,"dist":7.10,"side":"right"},{"frame":404,"dist":7.20,"side":"right"},{"frame":407,"dist":7.10,"side":"right"},{"frame":409,"dist":6.97,"side":"right"},{"frame":412,"dist":7.10,"side":"right"},{"frame":414,"dist":7.17,"side":"right"},{"frame":417,"dist":7.14,"side":"right"},{"frame":419,"dist":7.03,"side":"right"},{"frame":422,"dist":6.83,"side":"right"},{"frame":424,"dist":6.80,"side":"right"},{"frame":427,"dist":6.90,"side":"right"},{"frame":430,"dist":7.00,"side":"right"},{"frame":432,"dist":7.03,"side":"right"},{"frame":435,"dist":6.97,"side":"right"},{"frame":437,"dist":7.17,"side":"right"},{"frame":440,"dist":7.24,"side":"right"},{"frame":442,"dist":7.34,"side":"right"},{"frame":445,"dist":7.37,"side":"right"},{"frame":447,"dist":7.37,"side":"right"},{"frame":450,"dist":7.44,"side":"right"},{"frame":452,"dist":7.51,"side":"right"},{"frame":455,"dist":7.71,"side":"right"},{"frame":457,"dist":7.99,"side":"right"},{"frame":460,"dist":8.16,"side":"right"},{"frame":462,"dist":8.19,"side":"right"},{"frame":465,"dist":8.12,"side":"right"},{"frame":467,"dist":7.85,"side":"right"},{"frame":470,"dist":7.44,"side":"right"},{"frame":472,"dist":7.41,"side":"right"},{"frame":475,"dist":7.44,"side":"right"},{"frame":478,"dist":7.51,"side":"right"},{"frame":480,"dist":7.44,"side":"right"},{"frame":483,"dist":7.58,"side":"right"},{"frame":485,"dist":7.78,"side":"right"},{"frame":488,"dist":7.95,"side":"right"},{"frame":490,"dist":7.78,"side":"right"},{"frame":493,"dist":7.71,"side":"right"},{"frame":495,"dist":7.65,"side":"right"},{"frame":498,"dist":7.61,"side":"right"},{"frame":500,"dist":7.65,"side":"right"},{"frame":503,"dist":7.71,"side":"right"},{"frame":506,"dist":7.58,"side":"right"},{"frame":508,"dist":7.10,"side":"right"},{"frame":510,"dist":6.59,"side":"right"},{"frame":512,"dist":6.01,"side":"right"},{"frame":514,"dist":5.92,"side":"right"},{"frame":516,"dist":6.42,"side":"right"},{"frame":518,"dist":6.90,"side":"right"},{"frame":520,"dist":7.44,"side":"right"},{"frame":522,"dist":8.05,"side":"right"},{"frame":524,"dist":8.29,"side":"right"},{"frame":526,"dist":7.99,"side":"right"},{"frame":528,"dist":7.88,"side":"right"},{"frame":530,"dist":7.85,"side":"right"},{"frame":532,"dist":7.82,"side":"right"},{"frame":534,"dist":7.92,"side":"right"},{"frame":536,"dist":7.78,"side":"right"},{"frame":538,"dist":7.65,"side":"right"},{"frame":540,"dist":7.51,"side":"right"},{"frame":542,"dist":7.58,"side":"right"},{"frame":544,"dist":7.71,"side":"right"},{"frame":546,"dist":7.95,"side":"right"},{"frame":548,"dist":8.60,"side":"right"},{"frame":550,"dist":9.01,"side":"right"},{"frame":552,"dist":9.07,"side":"right"},{"frame":554,"dist":8.80,"side":"right"},{"frame":556,"dist":8.29,"side":"right"},{"frame":558,"dist":7.78,"side":"right"},{"frame":560,"dist":7.65,"side":"right"},{"frame":562,"dist":7.71,"side":"right"},{"frame":564,"dist":7.78,"side":"right"},{"frame":566,"dist":7.82,"side":"right"},{"frame":569,"dist":7.71,"side":"right"},{"frame":571,"dist":7.78,"side":"right"},{"frame":573,"dist":7.85,"side":"right"},{"frame":575,"dist":8.05,"side":"right"},{"frame":577,"dist":8.26,"side":"right"},{"frame":579,"dist":8.63,"side":"right"},{"frame":581,"dist":8.70,"side":"right"},{"frame":583,"dist":8.53,"side":"right"},{"frame":585,"dist":9.21,"side":"right"},{"frame":587,"dist":9.31,"side":"right"},{"frame":589,"dist":9.41,"side":"right"},{"frame":591,"dist":9.48,"side":"right"},{"frame":593,"dist":9.55,"side":"right"},{"frame":595,"dist":9.59,"side":"right"},{"frame":597,"dist":9.65,"side":"right"},{"frame":599,"dist":9.59,"side":"right"},{"frame":601,"dist":9.48,"side":"right"},{"frame":603,"dist":9.45,"side":"right"},{"frame":605,"dist":9.55,"side":"right"},{"frame":607,"dist":9.52,"side":"right"},{"frame":609,"dist":8.80,"side":"right"},{"frame":611,"dist":8.46,"side":"right"},{"frame":613,"dist":8.12,"side":"right"},{"frame":615,"dist":7.95,"side":"right"},{"frame":617,"dist":7.99,"side":"right"},{"frame":619,"dist":8.05,"side":"right"},{"frame":621,"dist":8.12,"side":"right"},{"frame":623,"dist":7.99,"side":"right"},{"frame":625,"dist":7.71,"side":"right"},{"frame":627,"dist":7.44,"side":"right"},{"frame":629,"dist":7.17,"side":"right"},{"frame":631,"dist":7.00,"side":"right"},{"frame":633,"dist":7.03,"side":"right"},{"frame":635,"dist":7.17,"side":"right"},{"frame":637,"dist":7.51,"side":"right"},{"frame":639,"dist":7.85,"side":"right"},{"frame":641,"dist":8.12,"side":"right"},{"frame":643,"dist":8.26,"side":"right"},{"frame":645,"dist":8.05,"side":"right"},{"frame":648,"dist":8.12,"side":"right"},{"frame":650,"dist":7.92,"side":"right"},{"frame":652,"dist":7.85,"side":"right"},{"frame":654,"dist":8.05,"side":"right"},{"frame":656,"dist":8.19,"side":"right"},{"frame":658,"dist":8.22,"side":"right"},{"frame":660,"dist":8.16,"side":"right"},{"frame":662,"dist":8.09,"side":"right"},{"frame":664,"dist":8.02,"side":"right"},{"frame":666,"dist":7.95,"side":"right"},{"frame":668,"dist":8.05,"side":"right"},{"frame":670,"dist":7.99,"side":"right"},{"frame":672,"dist":7.85,"side":"right"},{"frame":674,"dist":7.85,"side":"right"},{"frame":676,"dist":7.99,"side":"right"},{"frame":678,"dist":7.78,"side":"right"},{"frame":680,"dist":7.17,"side":"right"},{"frame":682,"dist":7.58,"side":"right"},{"frame":684,"dist":7.78,"side":"right"},{"frame":686,"dist":7.95,"side":"right"},{"frame":688,"dist":8.05,"side":"right"},{"frame":690,"dist":7.78,"side":"right"},{"frame":692,"dist":7.51,"side":"right"},{"frame":694,"dist":7.58,"side":"right"},{"frame":696,"dist":7.65,"side":"right"},{"frame":698,"dist":7.44,"side":"right"},{"frame":700,"dist":7.58,"side":"right"},{"frame":702,"dist":7.71,"side":"right"},{"frame":704,"dist":7.27,"side":"right"},{"frame":706,"dist":6.83,"side":"right"},{"frame":708,"dist":6.63,"side":"right"},{"frame":711,"dist":6.76,"side":"right"},{"frame":713,"dist":7.10,"side":"right"},{"frame":715,"dist":7.61,"side":"right"},{"frame":717,"dist":8.12,"side":"right"},{"frame":719,"dist":8.73,"side":"right"},{"frame":721,"dist":8.87,"side":"right"},{"frame":723,"dist":8.90,"side":"right"},{"frame":725,"dist":8.80,"side":"right"},{"frame":727,"dist":8.70,"side":"right"},{"frame":729,"dist":8.63,"side":"right"},{"frame":731,"dist":8.56,"side":"right"},{"frame":733,"dist":8.46,"side":"right"},{"frame":735,"dist":8.26,"side":"right"},{"frame":737,"dist":7.78,"side":"right"},{"frame":739,"dist":7.10,"side":"right"},{"frame":740,"dist":6.56,"side":"right"},{"frame":742,"dist":6.76,"side":"right"},{"frame":744,"dist":7.10,"side":"right"},{"frame":746,"dist":7.37,"side":"right"},{"frame":749,"dist":7.95,"side":"right"},{"frame":752,"dist":7.44,"side":"right"},{"frame":754,"dist":7.58,"side":"right"},{"frame":757,"dist":7.71,"side":"right"},{"frame":759,"dist":7.85,"side":"right"},{"frame":762,"dist":7.92,"side":"right"},{"frame":764,"dist":8.05,"side":"right"},{"frame":767,"dist":8.19,"side":"right"},{"frame":769,"dist":8.26,"side":"right"},{"frame":772,"dist":8.19,"side":"right"},{"frame":774,"dist":8.12,"side":"right"},{"frame":777,"dist":8.05,"side":"right"},{"frame":779,"dist":7.99,"side":"right"},{"frame":782,"dist":7.78,"side":"right"},{"frame":785,"dist":7.58,"side":"right"},{"frame":787,"dist":7.24,"side":"right"},{"frame":790,"dist":6.97,"side":"right"},{"frame":792,"dist":6.80,"side":"right"},{"frame":795,"dist":7.00,"side":"right"},{"frame":797,"dist":7.24,"side":"right"},{"frame":800,"dist":7.44,"side":"right"},{"frame":801,"dist":7.65,"side":"right"},{"frame":803,"dist":7.44,"side":"right"},{"frame":805,"dist":6.90,"side":"right"},{"frame":807,"dist":7.10,"side":"right"},{"frame":810,"dist":7.24,"side":"right"},{"frame":812,"dist":7.27,"side":"right"},{"frame":815,"dist":6.73,"side":"right"},{"frame":817,"dist":6.59,"side":"right"},{"frame":820,"dist":6.69,"side":"right"},{"frame":823,"dist":6.76,"side":"right"},{"frame":825,"dist":6.49,"side":"right"},{"frame":828,"dist":6.29,"side":"right"},{"frame":830,"dist":6.56,"side":"right"},{"frame":833,"dist":6.93,"side":"right"},{"frame":835,"dist":7.10,"side":"right"},{"frame":838,"dist":6.97,"side":"right"},{"frame":840,"dist":6.93,"side":"right"},{"frame":843,"dist":6.76,"side":"right"},{"frame":845,"dist":6.69,"side":"right"},{"frame":848,"dist":7.10,"side":"right"},{"frame":850,"dist":6.56,"side":"right"},{"frame":853,"dist":6.42,"side":"right"},{"frame":856,"dist":6.93,"side":"right"},{"frame":858,"dist":7.17,"side":"right"},{"frame":861,"dist":7.24,"side":"right"},{"frame":863,"dist":7.17,"side":"right"},{"frame":866,"dist":7.20,"side":"right"},{"frame":868,"dist":7.27,"side":"right"},{"frame":871,"dist":7.34,"side":"right"},{"frame":873,"dist":7.44,"side":"right"},{"frame":876,"dist":7.51,"side":"right"},{"frame":878,"dist":7.44,"side":"right"},{"frame":881,"dist":7.51,"side":"right"},{"frame":883,"dist":7.99,"side":"right"},{"frame":886,"dist":7.71,"side":"right"},{"frame":888,"dist":7.65,"side":"right"},{"frame":891,"dist":7.58,"side":"right"},{"frame":894,"dist":7.48,"side":"right"},{"frame":896,"dist":7.78,"side":"right"},{"frame":899,"dist":8.19,"side":"right"},{"frame":901,"dist":7.95,"side":"right"},{"frame":904,"dist":7.78,"side":"right"},{"frame":906,"dist":7.99,"side":"right"},{"frame":909,"dist":8.12,"side":"right"},{"frame":911,"dist":8.02,"side":"right"},{"frame":914,"dist":8.26,"side":"right"},{"frame":916,"dist":8.46,"side":"right"},{"frame":919,"dist":8.53,"side":"right"},{"frame":921,"dist":8.33,"side":"right"},{"frame":924,"dist":7.99,"side":"right"},{"frame":927,"dist":7.78,"side":"right"},{"frame":929,"dist":7.58,"side":"right"},{"frame":932,"dist":7.51,"side":"right"},{"frame":934,"dist":7.44,"side":"right"},{"frame":937,"dist":7.78,"side":"right"},{"frame":939,"dist":8.05,"side":"right"},{"frame":942,"dist":8.12,"side":"right"},{"frame":944,"dist":8.05,"side":"right"},{"frame":947,"dist":8.19,"side":"right"},{"frame":949,"dist":8.46,"side":"right"},{"frame":952,"dist":8.67,"side":"right"},{"frame":954,"dist":8.80,"side":"right"},{"frame":957,"dist":8.87,"side":"right"},{"frame":959,"dist":8.67,"side":"right"},{"frame":962,"dist":9.14,"side":"right"},{"frame":965,"dist":9.43,"side":"right"},{"frame":967,"dist":8.46,"side":"right"},{"frame":970,"dist":8.12,"side":"right"},{"frame":972,"dist":7.71,"side":"right"},{"frame":975,"dist":7.95,"side":"right"},{"frame":977,"dist":8.12,"side":"right"},{"frame":980,"dist":8.33,"side":"right"},{"frame":982,"dist":8.39,"side":"right"},{"frame":985,"dist":8.29,"side":"right"},{"frame":987,"dist":8.12,"side":"right"},{"frame":990,"dist":7.95,"side":"right"},{"frame":992,"dist":8.02,"side":"right"},{"frame":995,"dist":8.05,"side":"right"},{"frame":997,"dist":8.46,"side":"right"},{"frame":1000,"dist":9.48,"side":"right"},{"frame":1002,"dist":9.96,"side":"right"},{"frame":1004,"dist":9.69,"side":"right"},{"frame":1006,"dist":9.65,"side":"right"},{"frame":1008,"dist":9.69,"side":"right"},{"frame":1010,"dist":9.76,"side":"right"},{"frame":1013,"dist":9.48,"side":"right"},{"frame":1015,"dist":9.04,"side":"right"},{"frame":1018,"dist":8.46,"side":"right"},{"frame":1020,"dist":8.19,"side":"right"},{"frame":1023,"dist":8.16,"side":"right"},{"frame":1025,"dist":8.39,"side":"right"},{"frame":1028,"dist":8.73,"side":"right"},{"frame":1031,"dist":8.87,"side":"right"},{"frame":1033,"dist":9.14,"side":"right"},{"frame":1036,"dist":9.48,"side":"right"},{"frame":1038,"dist":9.48,"side":"right"},{"frame":1040,"dist":9.35,"side":"right"},{"frame":1042,"dist":9.14,"side":"right"},{"frame":1044,"dist":8.97,"side":"right"},{"frame":1046,"dist":8.73,"side":"right"},{"frame":1048,"dist":8.60,"side":"right"},{"frame":1051,"dist":8.63,"side":"right"},{"frame":1053,"dist":8.97,"side":"right"},{"frame":1056,"dist":9.38,"side":"right"},{"frame":1058,"dist":9.62,"side":"right"},{"frame":1061,"dist":9.82,"side":"right"},{"frame":1064,"dist":9.89,"side":"right"},{"frame":1066,"dist":9.86,"side":"right"},{"frame":1069,"dist":9.82,"side":"right"},{"frame":1071,"dist":9.79,"side":"right"},{"frame":1074,"dist":9.82,"side":"right"},{"frame":1076,"dist":9.86,"side":"right"},{"frame":1079,"dist":9.72,"side":"right"},{"frame":1081,"dist":9.48,"side":"right"},{"frame":1084,"dist":9.45,"side":"right"},{"frame":1086,"dist":9.28,"side":"right"},{"frame":1089,"dist":9.18,"side":"right"},{"frame":1091,"dist":9.21,"side":"right"},{"frame":1094,"dist":9.28,"side":"right"},{"frame":1096,"dist":9.31,"side":"right"},{"frame":1099,"dist":9.55,"side":"right"},{"frame":1102,"dist":9.76,"side":"right"},{"frame":1104,"dist":9.48,"side":"right"},{"frame":1107,"dist":9.35,"side":"right"},{"frame":1109,"dist":9.31,"side":"right"},{"frame":1112,"dist":9.21,"side":"right"},{"frame":1114,"dist":9.35,"side":"right"},{"frame":1117,"dist":9.41,"side":"right"},{"frame":1119,"dist":9.35,"side":"right"},{"frame":1122,"dist":8.73,"side":"right"},{"frame":1124,"dist":8.29,"side":"right"},{"frame":1127,"dist":8.53,"side":"right"},{"frame":1129,"dist":8.80,"side":"right"},{"frame":1132,"dist":8.94,"side":"right"},{"frame":1135,"dist":8.46,"side":"right"},{"frame":1137,"dist":7.78,"side":"right"},{"frame":1140,"dist":7.44,"side":"right"},{"frame":1141,"dist":7.37,"side":"right"},{"frame":1143,"dist":7.95,"side":"right"},{"frame":1145,"dist":8.05,"side":"right"},{"frame":1147,"dist":7.78,"side":"right"},{"frame":1150,"dist":7.37,"side":"right"},{"frame":1152,"dist":7.51,"side":"right"},{"frame":1155,"dist":7.95,"side":"right"},{"frame":1157,"dist":8.26,"side":"right"},{"frame":1160,"dist":8.12,"side":"right"},{"frame":1162,"dist":7.95,"side":"right"},{"frame":1165,"dist":7.78,"side":"right"},{"frame":1167,"dist":7.54,"side":"right"},{"frame":1170,"dist":6.86,"side":"right"},{"frame":1173,"dist":7.03,"side":"right"},{"frame":1175,"dist":7.10,"side":"right"},{"frame":1178,"dist":7.44,"side":"right"},{"frame":1180,"dist":7.78,"side":"right"},{"frame":1183,"dist":7.31,"side":"right"},{"frame":1185,"dist":7.03,"side":"right"},{"frame":1188,"dist":6.90,"side":"right"},{"frame":1190,"dist":7.10,"side":"right"},{"frame":1193,"dist":7.17,"side":"right"},{"frame":1195,"dist":7.51,"side":"right"},{"frame":1198,"dist":7.24,"side":"right"},{"frame":1200,"dist":7.58,"side":"right"},{"frame":1203,"dist":7.99,"side":"right"},{"frame":1206,"dist":8.19,"side":"right"},{"frame":1208,"dist":7.78,"side":"right"},{"frame":1211,"dist":7.17,"side":"right"},{"frame":1213,"dist":7.37,"side":"right"},{"frame":1216,"dist":7.51,"side":"right"},{"frame":1218,"dist":7.78,"side":"right"},{"frame":1221,"dist":7.99,"side":"right"},{"frame":1223,"dist":7.78,"side":"right"},{"frame":1226,"dist":7.51,"side":"right"},{"frame":1228,"dist":7.95,"side":"right"},{"frame":1231,"dist":8.60,"side":"right"},{"frame":1233,"dist":8.46,"side":"right"},{"frame":1236,"dist":8.39,"side":"right"},{"frame":1238,"dist":8.53,"side":"right"},{"frame":1241,"dist":8.26,"side":"right"},{"frame":1244,"dist":7.78,"side":"right"},{"frame":1246,"dist":7.27,"side":"right"},{"frame":1249,"dist":7.14,"side":"right"},{"frame":1251,"dist":7.37,"side":"right"},{"frame":1254,"dist":7.27,"side":"right"},{"frame":1256,"dist":7.20,"side":"right"},{"frame":1259,"dist":7.44,"side":"right"},{"frame":1261,"dist":7.68,"side":"right"},{"frame":1264,"dist":7.78,"side":"right"},{"frame":1266,"dist":7.92,"side":"right"},{"frame":1269,"dist":7.92,"side":"right"},{"frame":1271,"dist":7.99,"side":"right"},{"frame":1274,"dist":7.85,"side":"right"},{"frame":1276,"dist":8.05,"side":"right"},{"frame":1279,"dist":8.05,"side":"right"},{"frame":1282,"dist":7.71,"side":"right"},{"frame":1284,"dist":7.58,"side":"right"},{"frame":1287,"dist":7.51,"side":"right"},{"frame":1289,"dist":7.37,"side":"right"},{"frame":1292,"dist":7.17,"side":"right"},{"frame":1294,"dist":7.00,"side":"right"},{"frame":1297,"dist":7.44,"side":"right"},{"frame":1298,"dist":7.95,"side":"right"},{"frame":1300,"dist":8.46,"side":"right"},{"frame":1302,"dist":8.39,"side":"right"},{"frame":1304,"dist":8.26,"side":"right"},{"frame":1306,"dist":8.12,"side":"right"},{"frame":1308,"dist":7.92,"side":"right"},{"frame":1310,"dist":8.26,"side":"right"},{"frame":1312,"dist":8.60,"side":"right"},{"frame":1315,"dist":8.80,"side":"right"},{"frame":1317,"dist":8.90,"side":"right"},{"frame":1319,"dist":8.97,"side":"right"},{"frame":1321,"dist":8.87,"side":"right"},{"frame":1323,"dist":8.94,"side":"right"},{"frame":1325,"dist":8.90,"side":"right"},{"frame":1327,"dist":8.87,"side":"right"},{"frame":1329,"dist":8.80,"side":"right"},{"frame":1331,"dist":9.04,"side":"right"},{"frame":1333,"dist":9.14,"side":"right"},{"frame":1335,"dist":9.21,"side":"right"},{"frame":1337,"dist":9.28,"side":"right"},{"frame":1339,"dist":9.38,"side":"right"},{"frame":1341,"dist":9.28,"side":"right"},{"frame":1343,"dist":9.41,"side":"right"},{"frame":1345,"dist":9.45,"side":"right"},{"frame":1347,"dist":9.21,"side":"right"},{"frame":1349,"dist":8.87,"side":"right"},{"frame":1351,"dist":8.90,"side":"right"},{"frame":1353,"dist":8.97,"side":"right"},{"frame":1355,"dist":8.87,"side":"right"},{"frame":1357,"dist":8.73,"side":"right"},{"frame":1359,"dist":8.67,"side":"right"},{"frame":1361,"dist":9.14,"side":"right"},{"frame":1363,"dist":9.31,"side":"right"},{"frame":1365,"dist":9.40,"side":"right"},{"frame":1366,"dist":8.80,"side":"right"},{"frame":1368,"dist":8.12,"side":"right"},{"frame":1370,"dist":7.71,"side":"right"},{"frame":1372,"dist":7.65,"side":"right"},{"frame":1374,"dist":7.85,"side":"right"},{"frame":1376,"dist":8.26,"side":"right"},{"frame":1378,"dist":8.53,"side":"right"},{"frame":1380,"dist":8.77,"side":"right"},{"frame":1382,"dist":8.80,"side":"right"},{"frame":1384,"dist":8.63,"side":"right"},{"frame":1386,"dist":8.46,"side":"right"},{"frame":1388,"dist":8.29,"side":"right"},{"frame":1390,"dist":8.19,"side":"right"},{"frame":1392,"dist":8.12,"side":"right"},{"frame":1394,"dist":8.56,"side":"right"},{"frame":1396,"dist":8.53,"side":"right"},{"frame":1398,"dist":8.36,"side":"right"},{"frame":1400,"dist":8.05,"side":"right"},{"frame":1402,"dist":7.99,"side":"right"},{"frame":1404,"dist":7.65,"side":"right"},{"frame":1406,"dist":7.58,"side":"right"},{"frame":1408,"dist":7.48,"side":"right"},{"frame":1410,"dist":7.78,"side":"right"},{"frame":1412,"dist":8.26,"side":"right"},{"frame":1414,"dist":8.39,"side":"right"},{"frame":1416,"dist":8.53,"side":"right"},{"frame":1418,"dist":8.56,"side":"right"},{"frame":1420,"dist":8.67,"side":"right"},{"frame":1422,"dist":8.53,"side":"right"},{"frame":1425,"dist":8.60,"side":"right"},{"frame":1427,"dist":8.67,"side":"right"},{"frame":1429,"dist":8.46,"side":"right"},{"frame":1431,"dist":8.33,"side":"right"},{"frame":1433,"dist":8.26,"side":"right"},{"frame":1435,"dist":8.39,"side":"right"},{"frame":1437,"dist":8.26,"side":"right"},{"frame":1439,"dist":8.19,"side":"right"},{"frame":1441,"dist":8.05,"side":"right"},{"frame":1443,"dist":7.78,"side":"right"},{"frame":1445,"dist":7.58,"side":"right"},{"frame":1447,"dist":7.44,"side":"right"},{"frame":1449,"dist":7.14,"side":"right"},{"frame":1451,"dist":7.37,"side":"right"},{"frame":1453,"dist":7.51,"side":"right"},{"frame":1455,"dist":7.71,"side":"right"},{"frame":1457,"dist":8.12,"side":"right"},{"frame":1459,"dist":8.46,"side":"right"},{"frame":1460,"dist":8.36,"side":"right"},{"frame":1462,"dist":8.12,"side":"right"},{"frame":1464,"dist":7.85,"side":"right"},{"frame":1466,"dist":7.78,"side":"right"},{"frame":1468,"dist":7.71,"side":"right"},{"frame":1470,"dist":7.82,"side":"right"},{"frame":1472,"dist":7.92,"side":"right"},{"frame":1474,"dist":7.99,"side":"right"},{"frame":1476,"dist":8.09,"side":"right"},{"frame":1478,"dist":7.99,"side":"right"},{"frame":1480,"dist":7.85,"side":"right"},{"frame":1482,"dist":7.92,"side":"right"},{"frame":1484,"dist":7.78,"side":"right"},{"frame":1486,"dist":7.71,"side":"right"},{"frame":1488,"dist":7.44,"side":"right"},{"frame":1490,"dist":7.17,"side":"right"},{"frame":1492,"dist":7.03,"side":"right"},{"frame":1494,"dist":7.37,"side":"right"},{"frame":1496,"dist":7.71,"side":"right"},{"frame":1498,"dist":7.99,"side":"right"},{"frame":1500,"dist":8.05,"side":"right"}
    ]
  },
  "data": {"name": "curves"},
  "layer": [
    {
      "mark": {"type": "line", "strokeWidth": 1, "clip": true, "opacity": 0.9},
      "encoding": {
        "x": {"field": "frame", "type": "quantitative", "scale": {"domain": [0, 1500], "nice": false, "zero": false},
              "axis": {"values": [0, 500, 1000, 1500], "format": "d", "title": "Frames", "labelPadding": 14, "labelFontSize": 22, "titlePadding": 11}},
        "y": {"field": "dist", "type": "quantitative", "scale": {"domain": [6, 12], "nice": false, "zero": false},
              "axis": {"values": [6, 7, 8, 9, 10, 11, 12], "title": "Normalized distance", "labelPadding": 18, "titleFontSize": 24, "titlePadding": 6}},
        "color": {"field": "side", "type": "nominal",
                  "scale": {"domain": ["left", "right"], "range": ["#dc5656", "#86e086"]},
                  "legend": {"title": null, "orient": "top-right", "offset": 6, "strokeColor": "#c4c4c4", "fillColor": "white",
                             "padding": 5, "labelFontSize": 28, "labelFontWeight": "bold", "labelColor": "#000000", "labelFont": "Liberation Sans",
                             "symbolType": "stroke", "symbolSize": 784, "symbolStrokeWidth": 1, "labelOffset": 2, "rowPadding": 12, "cornerRadius": 0}}
      }
    },
    {
      "mark": {"type": "line", "opacity": 0, "clip": true},
      "encoding": {
        "x": {"field": "frame", "type": "quantitative", "scale": {"domain": [0, 1500], "nice": false, "zero": false},
              "axis": {"orient": "top", "values": [0, 500, 1000, 1500], "labels": false, "title": null}},
        "y": {"field": "dist", "type": "quantitative", "scale": {"domain": [6, 12], "nice": false, "zero": false},
              "axis": {"orient": "right", "values": [6, 7, 8, 9, 10, 11, 12], "labels": false, "title": null}},
        "detail": {"field": "side", "type": "nominal"}
      }
    }
  ],
  "resolve": {"axis": {"x": "independent", "y": "independent"}}
}
